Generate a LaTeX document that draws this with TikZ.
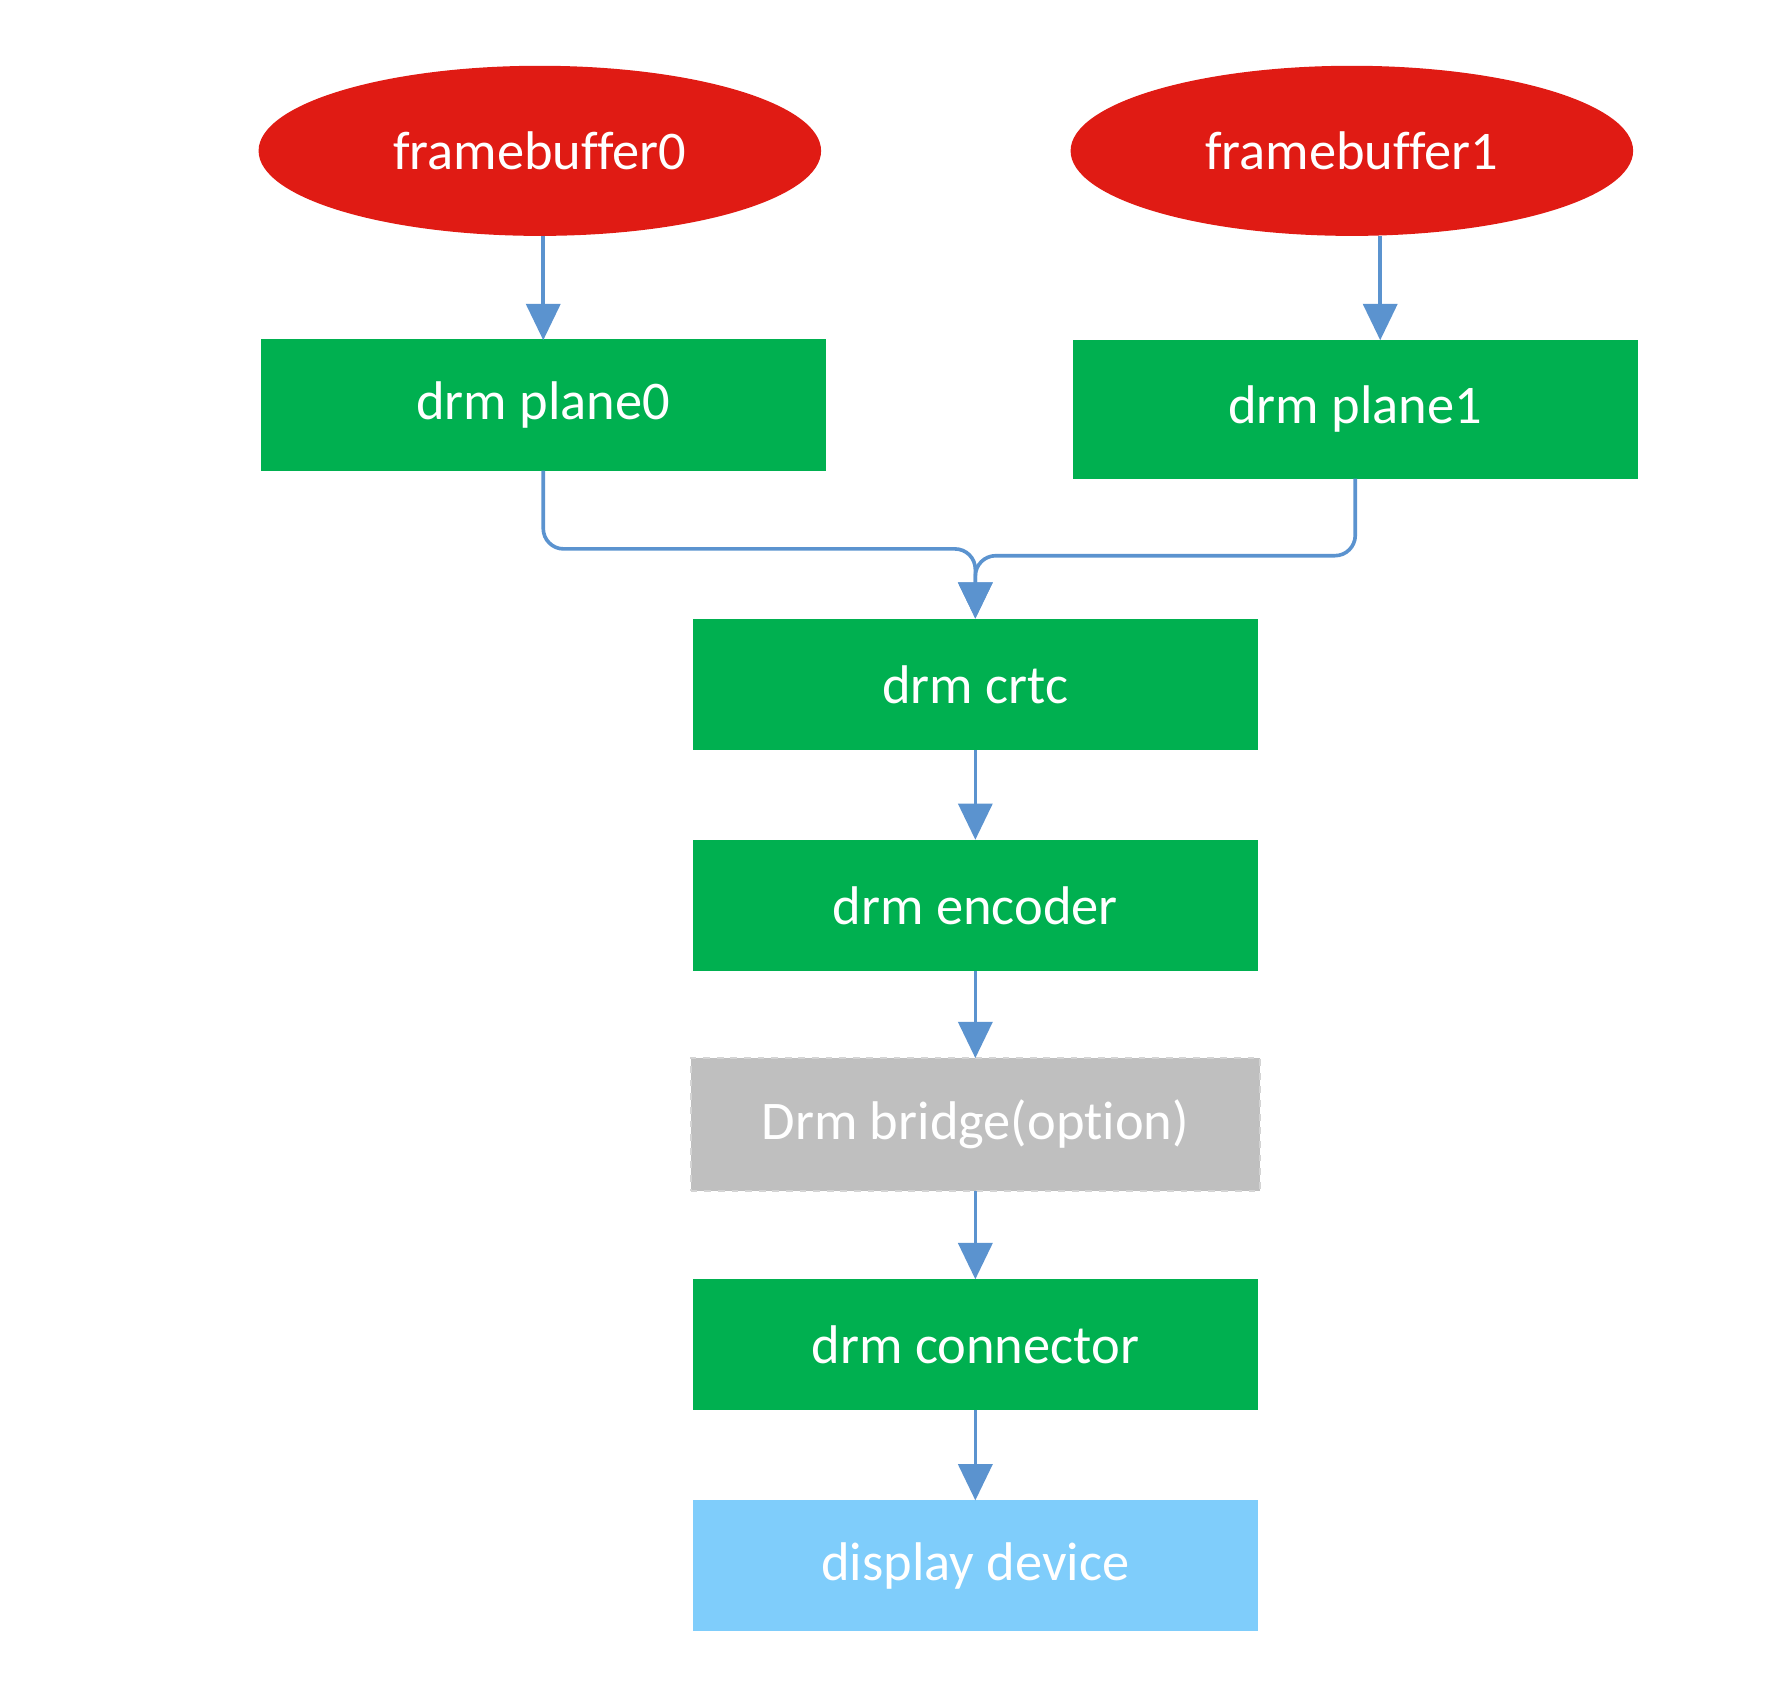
\documentclass[tikz,border=0pt]{standalone}
\usepackage{fontspec}
\setmainfont{Carlito}[Ligatures=CommonOff]
\usetikzlibrary{shapes.geometric,arrows.meta}
\definecolor{fbred}{HTML}{E01B14}
\definecolor{drmgreen}{HTML}{00B050}
\definecolor{bridgegray}{HTML}{BFBFBF}
\definecolor{bridgeedge}{HTML}{D4D4D4}
\definecolor{devblue}{HTML}{7FCDFB}
\definecolor{arrowblue}{HTML}{5B93CF}
\begin{document}
\begin{tikzpicture}[x=0.5pt,y=-0.5pt,
  every node/.style={font=\fontsize{24}{28}\selectfont, text=white, inner sep=0pt, outer sep=0pt},
  fbnode/.style={ellipse, fill=fbred, minimum width=248pt, minimum height=75pt},
  drmbox/.style={rectangle, fill=drmgreen, minimum width=249pt, minimum height=58pt},
  optbox/.style={rectangle, fill=bridgegray, draw=bridgeedge, dashed, line width=0.8pt, minimum width=251pt, minimum height=58.5pt},
  devbox/.style={rectangle, fill=devblue, minimum width=249pt, minimum height=57.5pt},
  flow/.style={draw=arrowblue, line width=1.6pt, -{Triangle[width=15pt,length=16pt]}},
  merge/.style={flow, rounded corners=9pt}]
\useasboundingbox (0,0) rectangle (1566,1481.5);

\node[fbnode] (fb0) at (476,133) {framebuffer0};
\node[fbnode] (fb1) at (1192,133) {framebuffer1};
\node[drmbox] (plane0) at (479,357) {drm plane0};
\node[drmbox, minimum height=61pt] (plane1) at (1195,361) {drm plane1};
\node[drmbox] (crtc) at (860,603.5) {drm crtc};
\node[drmbox] (encoder) at (860,798.5) {drm encoder};
\node[optbox] (bridge) at (860,991.5) {Drm bridge(option)};
\node[drmbox, minimum height=57.5pt] (connector) at (860,1185.5) {drm connector};
\node[devbox] (display) at (860,1380.5) {display device};

\coordinate (c0top) at (479,300);
\coordinate (c1top) at (1217,300);
\draw[flow] (fb0.south -| c0top) -- (c0top);
\draw[flow] (fb1.south -| c1top) -- (c1top);

\coordinate (m0) at (860,484);
\coordinate (m1) at (860,490);
\draw[merge] (plane0.south) |- (m0) -- (crtc.north);
\draw[merge] (plane1.south) |- (m1) -- (crtc.north);

\draw[flow] (crtc) -- (encoder);
\draw[flow] (encoder) -- (bridge);
\draw[flow] (bridge) -- (connector);
\draw[flow] (connector) -- (display);
\end{tikzpicture}
\end{document}
